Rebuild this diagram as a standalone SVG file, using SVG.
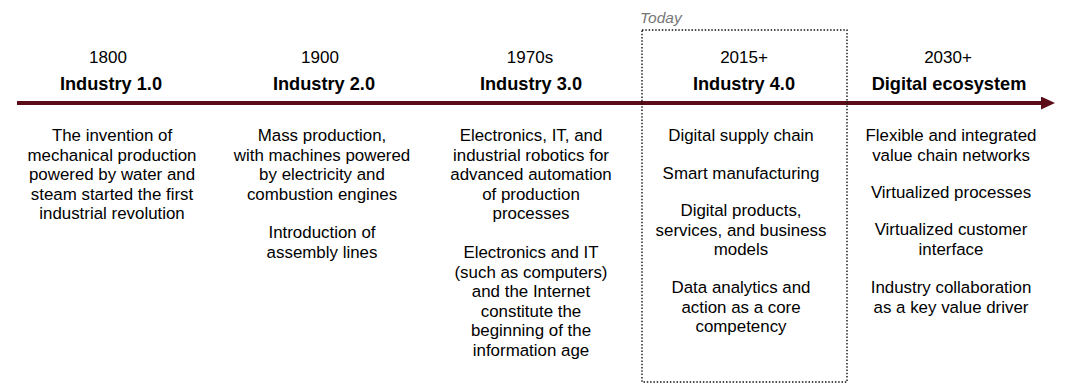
<svg xmlns="http://www.w3.org/2000/svg" width="1069" height="389" viewBox="0 0 1069 389">
<style>
text{font-family:"Liberation Sans",Arial,sans-serif;fill:#000;text-anchor:middle}
.yr{font-size:17px}
.ti{font-size:18.2px;font-weight:bold}
.b{font-size:16.9px}
.today{font-size:15.5px;font-style:italic;fill:#777;text-anchor:start}
</style>
<defs>
<marker id="ah" markerWidth="14" markerHeight="14" refX="1" refY="6.5" orient="auto" markerUnits="userSpaceOnUse">
<path d="M0,0 L14,6.5 L0,13 Z" fill="#5a0c17"/>
</marker>
</defs>
<rect width="1069" height="389" fill="#fff"/>
<g id="connectors">
<line x1="17" y1="103" x2="1042" y2="103" stroke="#5a0c17" stroke-width="4" marker-end="url(#ah)"/>
</g>
<g id="today">
<rect x="642" y="30" width="205" height="352" fill="none" stroke="#111" stroke-width="1.4" stroke-dasharray="1.5,1.8"/>
<text class="today" x="640" y="23">Today</text>
</g>
<g id="n1">
<text class="yr" x="108" y="63">1800</text>
<text class="ti" x="111" y="90">Industry 1.0</text>
<text class="b"><tspan x="112" y="141">The invention of</tspan><tspan x="112" y="160.5">mechanical production</tspan><tspan x="112" y="180">powered by water and</tspan><tspan x="112" y="199.5">steam started the first</tspan><tspan x="112" y="219">industrial revolution</tspan></text>
</g>
<g id="n2">
<text class="yr" x="320" y="63">1900</text>
<text class="ti" x="324" y="90">Industry 2.0</text>
<text class="b"><tspan x="322" y="141">Mass production,</tspan><tspan x="322" y="160.5">with machines powered</tspan><tspan x="322" y="180">by electricity and</tspan><tspan x="322" y="199.5">combustion engines</tspan></text>
<text class="b"><tspan x="322" y="238">Introduction of</tspan><tspan x="322" y="257.5">assembly lines</tspan></text>
</g>
<g id="n3">
<text class="yr" x="530" y="63">1970s</text>
<text class="ti" x="531" y="90">Industry 3.0</text>
<text class="b"><tspan x="531" y="141">Electronics, IT, and</tspan><tspan x="531" y="160.5">industrial robotics for</tspan><tspan x="531" y="180">advanced automation</tspan><tspan x="531" y="199.5">of production</tspan><tspan x="531" y="219">processes</tspan></text>
<text class="b"><tspan x="531" y="258">Electronics and IT</tspan><tspan x="531" y="277.5">(such as computers)</tspan><tspan x="531" y="297">and the Internet</tspan><tspan x="531" y="316.5">constitute the</tspan><tspan x="531" y="336">beginning of the</tspan><tspan x="531" y="355.5">information age</tspan></text>
</g>
<g id="n4">
<text class="yr" x="744" y="63">2015+</text>
<text class="ti" x="744" y="90">Industry 4.0</text>
<text class="b"><tspan x="741" y="141">Digital supply chain</tspan></text>
<text class="b"><tspan x="741" y="179">Smart manufacturing</tspan></text>
<text class="b"><tspan x="741" y="216">Digital products,</tspan><tspan x="741" y="235.5">services, and business</tspan><tspan x="741" y="255">models</tspan></text>
<text class="b"><tspan x="741" y="293">Data analytics and</tspan><tspan x="741" y="312.5">action as a core</tspan><tspan x="741" y="332">competency</tspan></text>
</g>
<g id="n5">
<text class="yr" x="948" y="63">2030+</text>
<text class="ti" x="949" y="90">Digital ecosystem</text>
<text class="b"><tspan x="951" y="141">Flexible and integrated</tspan><tspan x="951" y="160.5">value chain networks</tspan></text>
<text class="b"><tspan x="951" y="198">Virtualized processes</tspan></text>
<text class="b"><tspan x="951" y="235">Virtualized customer</tspan><tspan x="951" y="254.5">interface</tspan></text>
<text class="b"><tspan x="951" y="293">Industry collaboration</tspan><tspan x="951" y="312.5">as a key value driver</tspan></text>
</g>
</svg>
